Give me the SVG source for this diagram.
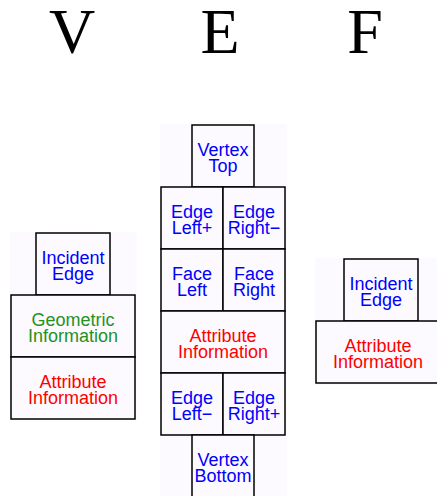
<svg xmlns="http://www.w3.org/2000/svg" width="437" height="496" viewBox="0 0 437 496">
<style>
.panel{fill:#fcfafe;stroke:none}
.box{fill:#fcfafe;stroke:#000;stroke-width:1.5}
.t{font-family:"Liberation Sans",Arial,sans-serif;font-size:18px;text-anchor:middle}
.b{fill:#0000ff}
.g{fill:#1f921f}
.r{fill:#ff0000}
.h{font-family:"Liberation Serif","Times New Roman",serif;font-size:64px;fill:#000;text-anchor:middle}
</style>
<rect width="437" height="496" fill="#fff"/>
<g id="titles">
<text class="h" x="72" y="53">V</text>
<text class="h" x="220" y="53">E</text>
<text class="h" x="365" y="53">F</text>
</g>
<g id="panels">
<rect class="panel" x="10" y="232" width="127" height="188"/>
<rect class="panel" x="160" y="124" width="127" height="372"/>
<rect class="panel" x="315" y="258" width="122" height="127"/>
</g>
<g id="V">
<g id="v-incident"><rect class="box" x="36" y="233" width="74" height="62"/><text class="t b" x="73" y="264">Incident<tspan x="73" dy="16">Edge</tspan></text></g>
<g id="v-geom"><rect class="box" x="11" y="295" width="124" height="62"/><text class="t g" x="73" y="326">Geometric<tspan x="73" dy="16">Information</tspan></text></g>
<g id="v-attr"><rect class="box" x="11" y="357" width="124" height="62"/><text class="t r" x="73" y="388">Attribute<tspan x="73" dy="16">Information</tspan></text></g>
</g>
<g id="E">
<g id="e-vtop"><rect class="box" x="192" y="125" width="62" height="62"/><text class="t b" x="223" y="156">Vertex<tspan x="223" dy="16">Top</tspan></text></g>
<g id="e-eleftp"><rect class="box" x="161" y="187" width="62" height="62"/><text class="t b" x="192" y="218">Edge<tspan x="192" dy="16">Left+</tspan></text></g>
<g id="e-erightm"><rect class="box" x="223" y="187" width="62" height="62"/><text class="t b" x="254" y="218">Edge<tspan x="254" dy="16">Right−</tspan></text></g>
<g id="e-fleft"><rect class="box" x="161" y="249" width="62" height="62"/><text class="t b" x="192" y="280">Face<tspan x="192" dy="16">Left</tspan></text></g>
<g id="e-fright"><rect class="box" x="223" y="249" width="62" height="62"/><text class="t b" x="254" y="280">Face<tspan x="254" dy="16">Right</tspan></text></g>
<g id="e-attr"><rect class="box" x="161" y="311" width="124" height="62"/><text class="t r" x="223" y="342">Attribute<tspan x="223" dy="16">Information</tspan></text></g>
<g id="e-eleftm"><rect class="box" x="161" y="373" width="62" height="62"/><text class="t b" x="192" y="404">Edge<tspan x="192" dy="16">Left−</tspan></text></g>
<g id="e-erightp"><rect class="box" x="223" y="373" width="62" height="62"/><text class="t b" x="254" y="404">Edge<tspan x="254" dy="16">Right+</tspan></text></g>
<g id="e-vbottom"><rect class="box" x="192" y="435" width="62" height="62"/><text class="t b" x="223" y="466">Vertex<tspan x="223" dy="16">Bottom</tspan></text></g>
</g>
<g id="F">
<g id="f-incident"><rect class="box" x="344" y="259" width="74" height="62"/><text class="t b" x="381" y="290">Incident<tspan x="381" dy="16">Edge</tspan></text></g>
<g id="f-attr"><rect class="box" x="316" y="321" width="124" height="62"/><text class="t r" x="378" y="352">Attribute<tspan x="378" dy="16">Information</tspan></text></g>
</g>
<g id="connectors"></g>
</svg>
